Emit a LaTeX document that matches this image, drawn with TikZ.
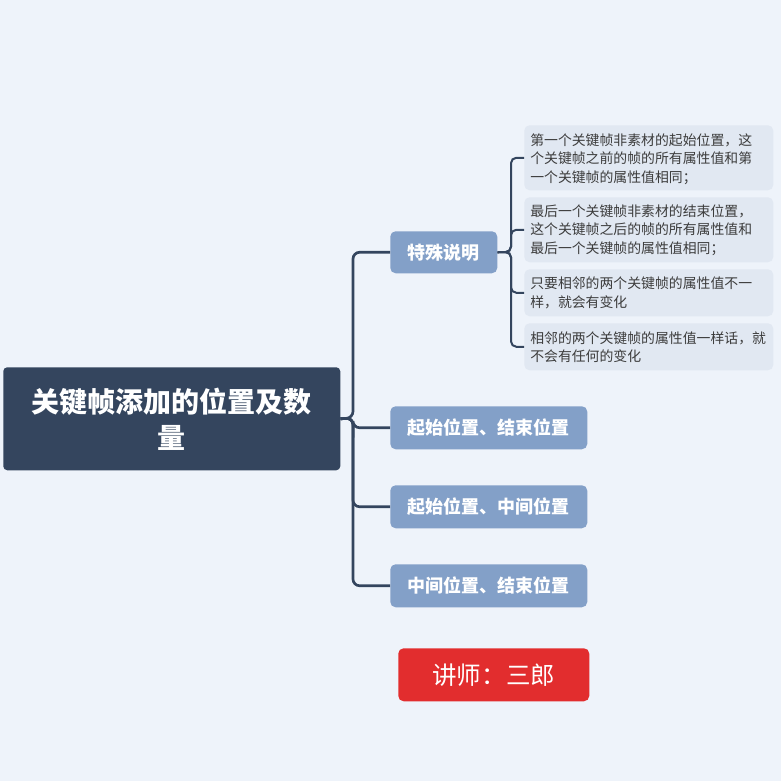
\documentclass[tikz,border=0pt]{standalone}
\usepackage{fontspec}
\newfontfamily\cjk{Noto Sans CJK SC}
\definecolor{bgc}{RGB}{238,243,250}
\definecolor{rootc}{RGB}{52,69,94}
\definecolor{branchc}{RGB}{131,160,200}
\definecolor{leafc}{RGB}{225,232,242}
\definecolor{leaftext}{RGB}{60,60,60}
\definecolor{redc}{RGB}{226,45,46}
\tikzset{
  rootbox/.style={draw=none, fill=rootc, rounded corners=3pt, anchor=north west, inner sep=0pt},
  branchbox/.style={draw=none, fill=branchc, rounded corners=4pt, anchor=north west, inner sep=0pt,
    text=white, font=\cjk\bfseries\fontsize{13.5pt}{15pt}\selectfont, align=center},
  leafbox/.style={draw=none, fill=leafc, rounded corners=4pt, anchor=north west, inner sep=0pt,
    minimum width=186.75pt},
  leaftxt/.style={anchor=west, inner sep=0pt, text=leaftext, font=\cjk\fontsize{10.4pt}{13.9pt}\selectfont, align=left},
  conn/.style={draw=rootc, line width=2pt, rounded corners=5pt},
  conn2/.style={draw=rootc, line width=1.5pt, rounded corners=4pt},
}
\begin{document}
\begin{tikzpicture}[x=0.75pt,y=-0.75pt]
\fill[bgc] (0,0) rectangle (781,781);
\useasboundingbox (0,0) rectangle (781,781);
% root
\node[rootbox, minimum width=252.75pt, minimum height=77.25pt] (root) at (3,367) {};
\node[text=white, font=\cjk\bfseries\fontsize{21pt}{27pt}\selectfont, align=center, inner sep=0pt] (roottext) at (root.center) {关键帧添加的位置及数\\量};
% branches
\node[branchbox, minimum width=80.25pt, minimum height=31.5pt] (b1) at (390,231) {特殊说明};
\node[branchbox, minimum width=147.75pt, minimum height=32.25pt] (b2) at (390,406) {起始位置、结束位置};
\node[branchbox, minimum width=147.75pt, minimum height=32.25pt] (b3) at (390,485) {起始位置、中间位置};
\node[branchbox, minimum width=147.75pt, minimum height=32.25pt] (b4) at (390,564) {中间位置、结束位置};
% leaves
\node[leafbox, minimum height=48.75pt] (l1) at (524,125) {};
\node[leafbox, minimum height=48.75pt] (l2) at (524,197) {};
\node[leafbox, minimum height=35.25pt] (l3) at (524,269) {};
\node[leafbox, minimum height=35.25pt] (l4) at (524,323) {};
\node[leaftxt] (t1) at (530,159) {第一个关键帧非素材的起始位置，这\\个关键帧之前的帧的所有属性值和第\\一个关键帧的属性值相同；};
\node[leaftxt] (t2) at (530,230) {最后一个关键帧非素材的结束位置，\\这个关键帧之后的帧的所有属性值和\\最后一个关键帧的属性值相同；};
\node[leaftxt] (t3) at (530,293) {只要相邻的两个关键帧的属性值不一\\样，就会有变化};
\node[leaftxt] (t4) at (530,347) {相邻的两个关键帧的属性值一样话，就\\不会有任何的变化};
% teacher
\node[draw=none, fill=redc, rounded corners=4pt, anchor=north west, inner sep=0pt,
  minimum width=143.25pt, minimum height=39.75pt, text=white,
  font=\cjk\fontsize{18.4pt}{20pt}\selectfont] (teacher) at (398,648) {讲师：三郎};
% connectors
\coordinate (rj) at (353,418);
\foreach \b in {b1,b2,b3,b4} {
  \draw[conn] (root.east) -- (rj) |- (\b.west);
}
\coordinate (bj) at (511,252);
\foreach \l in {l1,l2,l3,l4} {
  \draw[conn2] (b1.east) -- (bj) |- (\l.west);
}
\end{tikzpicture}
\end{document}
